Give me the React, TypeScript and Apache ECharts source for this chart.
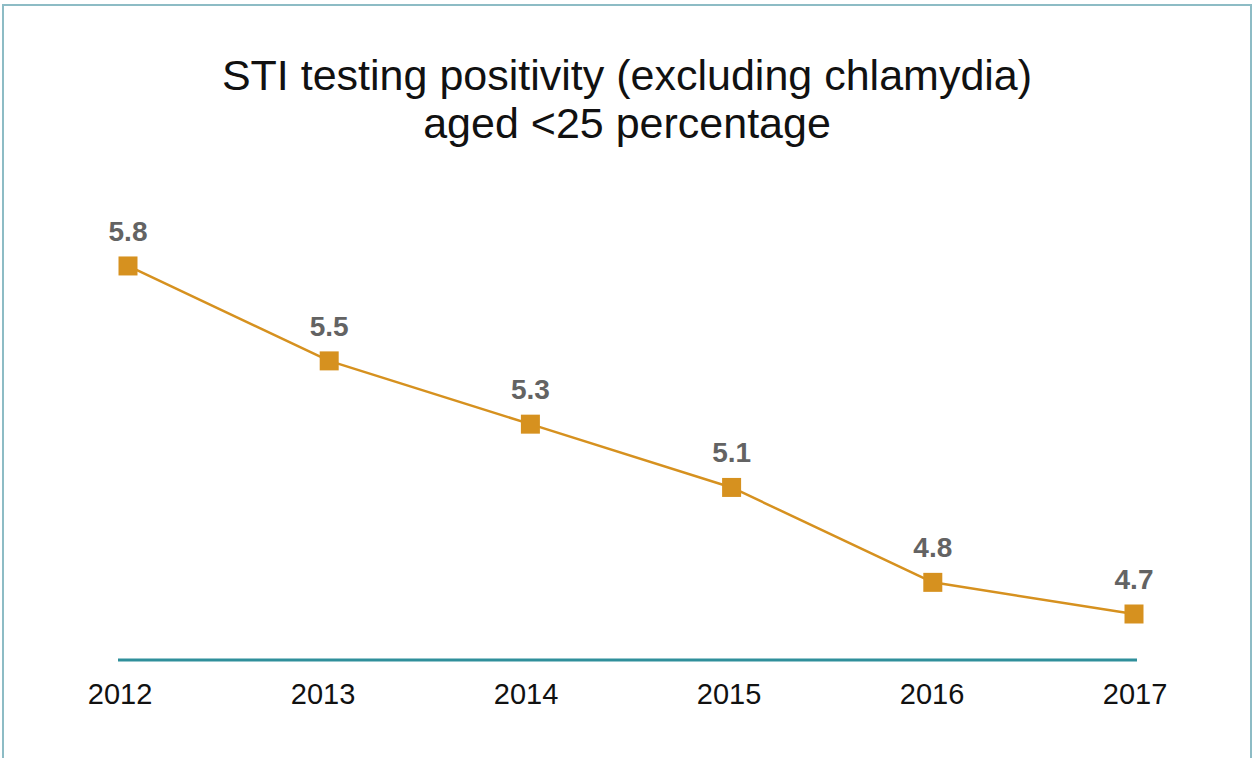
import React, { useEffect, useRef } from "react";
import * as echarts from "echarts";

const years = ["2012", "2013", "2014", "2015", "2016", "2017"];
const positivity = [5.8, 5.5, 5.3, 5.1, 4.8, 4.7];
const titleText = "STI testing positivity (excluding chlamydia)\naged <25 percentage";

export default function App() {
  const ref = useRef<HTMLDivElement>(null);
  useEffect(() => {
    document.body.style.margin = "0";
    const chart = echarts.init(ref.current!, null, { renderer: "svg" });
    chart.setOption({
      animation: false,
      backgroundColor: "#ffffff",
      title: {
        text: titleText,
        left: 622,
        top: 46,
        textAlign: "center",
        textStyle: {
          fontFamily: "Liberation Sans, Arial, sans-serif",
          fontSize: 43,
          fontWeight: 300,
          color: "#111111",
          lineHeight: 48,
        },
      },
      grid: [
        { left: 128, right: 121, top: 203, bottom: 98 },
        { left: 120, right: 120, top: 203, bottom: 98 },
      ],
      xAxis: [
        {
          type: "category",
          data: years,
          boundaryGap: false,
          gridIndex: 0,
          axisLine: { show: false },
          axisTick: { show: false },
          axisLabel: { show: false },
        },
        {
          type: "category",
          data: years,
          boundaryGap: false,
          gridIndex: 1,
          axisLine: { show: false },
          axisTick: { show: false },
          axisLabel: {
            margin: 19,
            fontFamily: "Liberation Sans, Arial, sans-serif",
            fontSize: 29,
            color: "#111111",
          },
        },
      ],
      yAxis: [
        { type: "value", min: 4.5546, max: 5.999, show: false, gridIndex: 0 },
        { type: "value", min: 0, max: 1, show: false, gridIndex: 1 },
      ],
      graphic: [
        {
          type: "rect",
          shape: { x: 3, y: 5, width: 1248, height: 780 },
          style: { fill: "none", stroke: "#8dbcc5", lineWidth: 2 },
        },
        {
          type: "line",
          shape: { x1: 118, y1: 660, x2: 1137, y2: 660 },
          style: { stroke: "#2f8f9b", lineWidth: 3 },
        },
      ],
      series: [
        {
          type: "line",
          xAxisIndex: 0,
          yAxisIndex: 0,
          data: positivity,
          symbol: "rect",
          symbolSize: 19,
          lineStyle: { color: "#d6911f", width: 2.5 },
          itemStyle: { color: "#d6911f" },
          label: {
            show: true,
            position: "top",
            distance: 11,
            fontFamily: "Liberation Sans, Arial, sans-serif",
            fontSize: 28,
            fontWeight: "bold",
            color: "#636363",
            formatter: (p: any) => p.value.toFixed(1),
          },
        },
      ],
    });
    return () => chart.dispose();
  }, []);
  return <div ref={ref} style={{ width: 1255, height: 758 }} />;
}
